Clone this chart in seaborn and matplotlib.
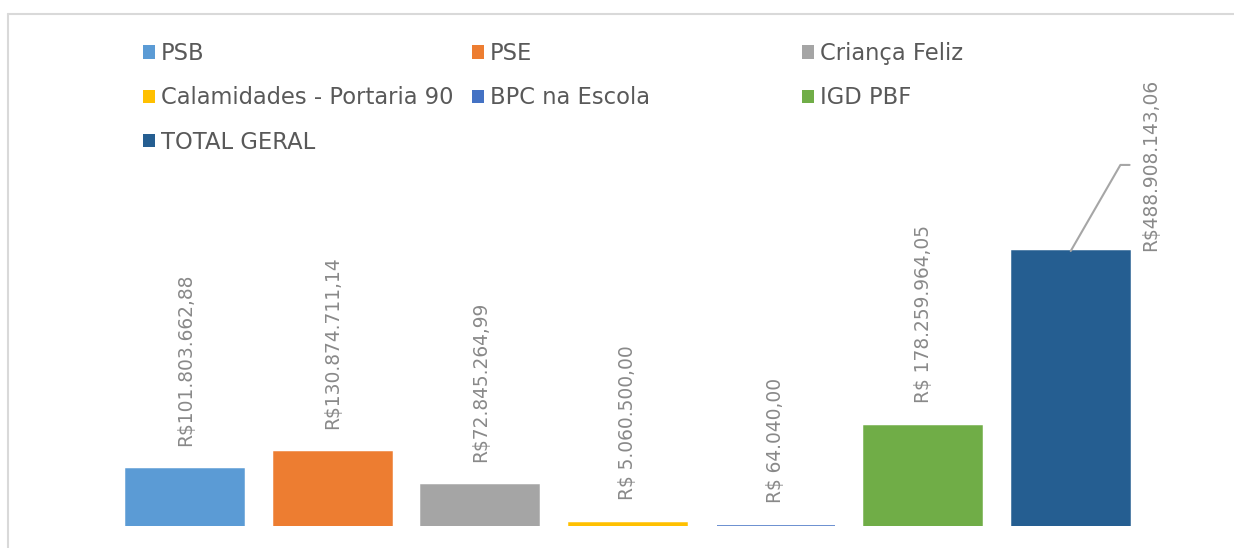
# ============================================================
# REPASSES POR BLOCO - BAR CHART
# ============================================================

import pandas as pd
import matplotlib.pyplot as plt
import seaborn as sns
from matplotlib.patches import Patch
from matplotlib.lines import Line2D

# =========================
# DATA
# =========================

categories = ["PSB", "PSE", "Criança Feliz", "Calamidades - Portaria 90",
              "BPC na Escola", "IGD PBF", "TOTAL GERAL"]
values = [101803662.88, 130874711.14, 72845264.99, 5060500.00,
          64040.00, 178259964.05, 488908143.06]
value_labels = ["R$101.803.662,88", "R$130.874.711,14", "R$72.845.264,99",
                "R$ 5.060.500,00", "R$ 64.040,00", "R$ 178.259.964,05",
                "R$488.908.143,06"]
colors = ["#5B9BD5", "#ED7D31", "#A5A5A5", "#FFC000",
          "#4472C4", "#70AD47", "#255E91"]

df = pd.DataFrame({"categoria": categories, "valor": values})

# =========================
# PLOT
# =========================

sns.set_style("white")
plt.rcParams["font.family"] = ["DejaVu Sans"]

fig = plt.figure(figsize=(12.34, 5.48), dpi=100)
ax = fig.add_axes([111.5 / 1234, 22 / 548, 1033 / 1234, 376 / 548])

sns.barplot(data=df, x="categoria", y="valor", hue="categoria",
            palette=colors, saturation=1, width=0.8, legend=False, ax=ax,
            linewidth=0)
for bar, c in zip(ax.patches, colors):
    bar.set_edgecolor(c)
    bar.set_linewidth(1.1)

ax.set_xlim(-0.5, len(categories) - 0.5)
ax.set_ylim(0, max(values) * 376 / 275)
ax.set_axis_off()

# data labels
label_color = "#898989"
for i, (v, lab) in enumerate(zip(values, value_labels)):
    if i == len(values) - 1:
        continue
    ax.annotate(lab, xy=(i, v), xytext=(0, 23), textcoords="offset pixels",
                rotation=90, ha="center", va="bottom",
                fontsize=13.4, color=label_color)

# total label with leader line
i = len(values) - 1
ax.annotate(value_labels[i], xy=(i, values[i]), xytext=(80, 0),
            textcoords="offset pixels", rotation=90, ha="center",
            va="bottom", fontsize=13.4, color=label_color,
            arrowprops=dict(arrowstyle="-", color="#A6A6A6", lw=1.5,
                            relpos=(0, 0.5), shrinkA=6, shrinkB=0,
                            connectionstyle="angle,angleA=180,angleB=60,rad=0"))

# legend in three columns, row by row
handles = [Patch(facecolor=c, edgecolor="none") for c in colors]
col_x = [143, 472, 802]
for col, x in enumerate(col_x):
    idx = list(range(col, len(categories), 3))
    fig.legend([handles[k] for k in idx], [categories[k] for k in idx],
               loc="upper left", bbox_to_anchor=(x / 1234, 1 - 42 / 548),
               frameon=False, fontsize=16.3, borderpad=0,
               borderaxespad=0, handlelength=0.53, handleheight=0.53,
               handletextpad=0.25, labelspacing=0.94,
               labelcolor="#595959")

# chart border (top and left only, the rest is cropped)
border = dict(color="#D9D9D9", linewidth=1.5, transform=fig.transFigure)
fig.add_artist(Line2D([8 / 1234, 1.0], [1 - 14 / 548, 1 - 14 / 548], **border))
fig.add_artist(Line2D([8 / 1234, 8 / 1234], [0.0, 1 - 14 / 548], **border))

plt.savefig("out.png", dpi=100)
plt.close()
